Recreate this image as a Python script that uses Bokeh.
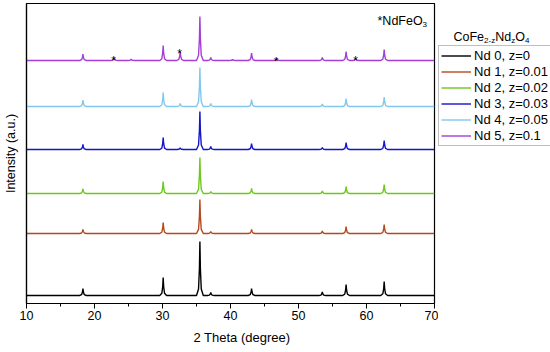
from bokeh.plotting import figure
from bokeh.layouts import row
from bokeh.models import Range1d, FixedTicker, Legend, LegendItem, Label, Title
from bokeh.core.properties import value
from bokeh.embed import file_html
from bokeh.resources import INLINE

# ---- data ----
peak_pos = [18.3, 22.9, 25.4, 30.1, 32.6, 35.5, 37.1, 40.3, 43.1, 46.8, 53.5, 57.0, 58.4, 62.6]
series_names = ["Nd 0, z=0", "Nd 1, z=0.01", "Nd 2, z=0.02", "Nd 3, z=0.03", "Nd 4, z=0.05", "Nd 5, z=0.1"]
offsets = [8, 70, 110, 154, 197, 243]
h_nd0 = [7.0, 0, 0, 18, 0, 54, 3, 0, 7.0, 0, 3.5, 11, 0, 14]
h_nd1 = [4.0, 0, 0, 11, 0, 34, 2, 0, 4.0, 0, 2.5, 7, 0, 9]
h_nd2 = [4.5, 0, 0, 12, 0, 36, 2, 0, 5.0, 0, 2.5, 7, 0, 9]
h_nd3 = [5.0, 0, 0, 12, 1.5, 38, 3, 0, 6.0, 0, 2.0, 7, 0, 9]
h_nd4 = [6.5, 0, 0, 14, 3.0, 39, 3, 0, 7.0, 0, 2.5, 8, 0, 9.5]
h_nd5 = [6.5, 3, 1.2, 15, 9.0, 44, 3, 1, 7.5, 2.5, 3.0, 9, 2, 11]
heights = [h_nd0, h_nd1, h_nd2, h_nd3, h_nd4, h_nd5]
colors = ["#000000", "#b34a1e", "#6cc81e", "#1414c8", "#82c8ee", "#a43ed6"]
star_x = [22.8, 32.5, 46.7, 58.4]
star_y = [250, 257, 249, 250]
x_ticks = [10, 20, 30, 40, 50, 60, 70]
x_minor = [15, 25, 35, 45, 55, 65]

FONT = "Liberation Sans"

p = figure(frame_width=408, height=352, output_backend="svg", toolbar_location=None,
           x_range=Range1d(10, 70), y_range=Range1d(0, 300),
           min_border_left=25, min_border_right=4, min_border_top=3, min_border_bottom=49)
p.xgrid.visible = False
p.ygrid.visible = False
p.outline_line_color = "black"
p.outline_line_width = 1.2

# x axis
p.xaxis.ticker = FixedTicker(ticks=x_ticks, minor_ticks=x_minor)
p.xaxis.major_tick_out = 5
p.xaxis.major_tick_in = 0
p.xaxis.minor_tick_out = 3
p.xaxis.minor_tick_in = 0
p.xaxis.major_label_standoff = 2
p.xaxis.major_label_text_font = FONT
p.xaxis.major_label_text_font_size = "12.5px"
p.xaxis.major_label_text_color = "black"
p.xaxis.axis_line_width = 1.2

xtitle = Title(text="2 Theta (degree)", align="left", offset=167, standoff=11,
               vertical_align="bottom",
               text_font=FONT, text_font_size="13px", text_font_style="normal",
               text_color="black")
p.add_layout(xtitle, "below")

# y axis
p.yaxis.ticker = FixedTicker(ticks=[])
p.yaxis.major_tick_line_color = None
p.yaxis.minor_tick_line_color = None
p.yaxis.major_tick_out = 0
p.yaxis.major_label_standoff = 0
p.yaxis.axis_label = "Intensity (a.u.)"
p.yaxis.axis_label_text_font = FONT
p.yaxis.axis_label_text_font_size = "12.5px"
p.yaxis.axis_label_text_font_style = "normal"
p.yaxis.axis_label_text_color = "black"
p.yaxis.axis_label_standoff = 9
p.yaxis.axis_line_width = 1.2

# build the traces from peak tables
def trace(base, hs):
    xs = [10.0]
    ys = [base]
    for pos, h in zip(peak_pos, hs):
        if h <= 0:
            continue
        xs += [pos - 0.5, pos - 0.2, pos - 0.07, pos, pos + 0.07, pos + 0.2, pos + 0.5]
        ys += [base, base + 0.12 * h, base + 0.5 * h, base + h, base + 0.5 * h, base + 0.12 * h, base]
    xs.append(70.0)
    ys.append(base)
    return xs, ys

for name, base, hs, c in zip(series_names, offsets, heights, colors):
    xs, ys = trace(base, hs)
    p.line(xs, ys, line_color=c, line_width=1.4)

# stars marking NdFeO3
p.text(x=star_x, y=[s - 7 for s in star_y], text=["*"] * len(star_x),
       text_font=value(FONT), text_font_size="12px", text_align="center",
       text_baseline="alphabetic", text_color="black")

def add_rich(fig, parts, x0, y0):
    x = x0
    for txt, size, sub, w in parts:
        fig.add_layout(Label(x=x, y=y0 - (4 if sub else 0), x_units="screen", y_units="screen",
                             text=txt, text_font=FONT, text_font_size=f"{size}px",
                             text_baseline="middle", text_align="left", text_color="black"))
        x += w

# *NdFeO3 annotation
nd_parts = [("*NdFe", 12.5, False, 35.4), ("O", 12.5, False, 9.7), ("3", 8, True, 4.4)]
add_rich(p, nd_parts, 376 - 25, 283)

# ---- legend panel ----
p2 = figure(width=113, height=352, output_backend="svg", toolbar_location=None,
            x_range=Range1d(0, 1), y_range=Range1d(0, 1),
            x_axis_location=None, y_axis_location=None,
            min_border_left=0, min_border_right=0, min_border_top=0, min_border_bottom=0)
p2.grid.visible = False
p2.outline_line_color = None

items = []
for name, c in zip(series_names, colors):
    r = p2.line([-5, -4], [-5, -4], line_color=c, line_width=1.4)
    items.append(LegendItem(label=name, renderers=[r]))

legend = Legend(items=items, location=(0, 157), margin=0, padding=2, spacing=1,
                glyph_height=15, glyph_width=30, label_height=15, label_standoff=3,
                label_text_font=FONT, label_text_font_size="13px", label_text_color="black",
                border_line_color="#808080", border_line_width=1,
                background_fill_alpha=1.0)
p2.add_layout(legend, "center")

title_parts = [("CoFe", 12.5, False, 30.6), ("2-z", 8, True, 11.1), ("Nd", 12.5, False, 16.0),
               ("z", 8, True, 4.0), ("O", 12.5, False, 9.7), ("4", 8, True, 4.4)]
add_rich(p2, title_parts, 452 - 437, 267)

open("out.html", "w").write(file_html(row(p, p2), INLINE))
